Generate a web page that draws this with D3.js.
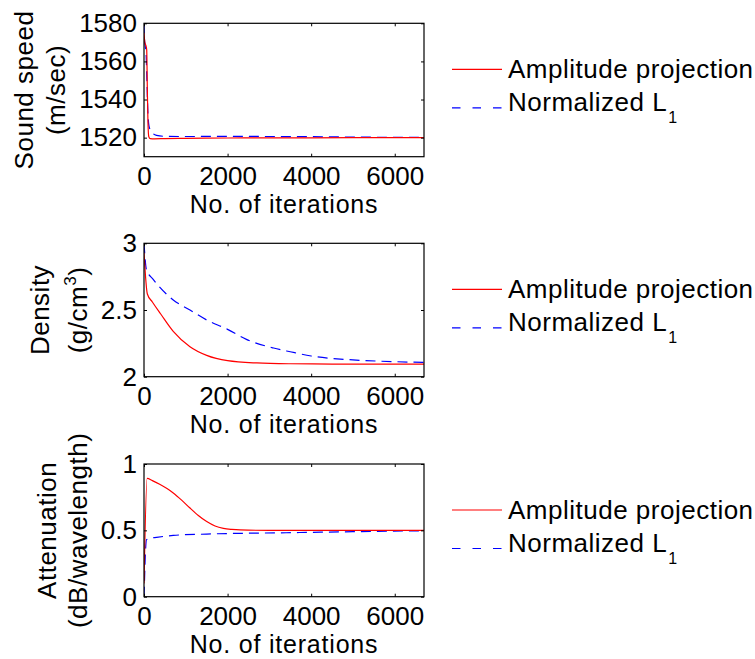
<!DOCTYPE html>
<html>
<head>
<meta charset="utf-8">
<script src="https://cdn.jsdelivr.net/npm/d3@7"></script>
<style>
  html, body { margin: 0; padding: 0; background: #fff; }
  svg { display: block; }
  text { font-family: "Liberation Sans", Arial, Helvetica, sans-serif; fill: #000; }
</style>
</head>
<body>
<svg id="chart" width="755" height="659"></svg>
<script>
// ---------------- data ----------------
const xTicks = [0, 2000, 4000, 6000];
const xDomain = [0, 6700];

// Panel 1: sound speed (m/sec)
const ssTicks = [1520, 1540, 1560, 1580];
const ssDomain = [1510, 1580];
const ssIterRed = [0, 20, 50, 65, 80, 95, 115, 150, 250, 500, 1000, 2000, 3000, 4000, 5000, 6700];
const ssRed     = [1575, 1570, 1568, 1566, 1545, 1528, 1520.5, 1519.5, 1519.4, 1519.5, 1519.6, 1519.8, 1519.9, 1519.9, 1520, 1520];
const ssIterBlue = [0, 10, 30, 50, 70, 90, 120, 180, 300, 500, 1000, 2000, 3000, 4000, 5000, 6700];
const ssBlue     = [1580, 1572, 1568, 1564, 1550, 1535, 1526, 1523, 1521.2, 1520.7, 1520.6, 1520.7, 1520.6, 1520.5, 1520.3, 1520.1];

// Panel 2: density (g/cm^3)
const dTicks = [2, 2.5, 3];
const dDomain = [2, 3];
const dIterRed = [0, 80, 200, 400, 700, 1100, 1500, 2000, 2700, 3500, 4500, 5500, 6700];
const dRed     = [2.93, 2.62, 2.56, 2.47, 2.34, 2.225, 2.16, 2.12, 2.103, 2.097, 2.095, 2.095, 2.095];
const dIterBlue = [0, 60, 220, 700, 1100, 1500, 2000, 2450, 3100, 3500, 4000, 4800, 5600, 6700];
const dBlue     = [3.0, 2.8, 2.73, 2.575, 2.5, 2.425, 2.355, 2.28, 2.215, 2.187, 2.155, 2.13, 2.117, 2.107];

// Panel 3: attenuation (dB/wavelength)
const aTicks = [0, 0.5, 1];
const aDomain = [0, 1];
const aIterRed = [0, 75, 200, 375, 550, 700, 900, 1100, 1300, 1500, 1700, 1900, 2100, 2300, 3000, 4000, 5000, 6700];
const aRed     = [0.1, 0.892, 0.875, 0.848, 0.815, 0.782, 0.728, 0.668, 0.612, 0.566, 0.533, 0.515, 0.507, 0.503, 0.5, 0.5, 0.5, 0.5];
const aIterBlue = [0, 10, 30, 60, 150, 300, 700, 1500, 3400, 5000, 6700];
const aBlue     = [0, 0.1, 0.3, 0.43, 0.44, 0.447, 0.462, 0.472, 0.482, 0.49, 0.497];

const legendLabels = ["Amplitude projection", "Normalized L", "1"];
const xLabel = "No. of iterations";

// ---------------- layout ----------------
const svg = d3.select("#chart");
const FS = 26;
const LS = "0.5px";
const left = 144, right = 424;
const panels = [
  { top: 23.3, bottom: 156.7, domain: ssDomain, ticks: ssTicks, fmt: d => String(d),
    red: [ssIterRed, ssRed], blue: [ssIterBlue, ssBlue],
    ylab: [{ t: "Sound speed", x: 33 }, { t: "(m/sec)", x: 65 }] },
  { top: 243.3, bottom: 376.7, domain: dDomain, ticks: dTicks, fmt: d => String(d),
    red: [dIterRed, dRed], blue: [dIterBlue, dBlue],
    ylab: [{ t: "Density", x: 49 }, { t: "(g/cm", sup: "3", tail: ")", x: 87 }] },
  { top: 464, bottom: 596.7, domain: aDomain, ticks: aTicks, fmt: d => String(d),
    red: [aIterRed, aRed], blue: [aIterBlue, aBlue],
    ylab: [{ t: "Attenuation", x: 56 }, { t: "(dB/wavelength)", x: 87 }] }
];

const x = d3.scaleLinear().domain(xDomain).range([left, right]);

panels.forEach((p, i) => {
  const y = d3.scaleLinear().domain(p.domain).range([p.bottom, p.top]);
  const g = svg.append("g");

  const clipId = "clip" + i;
  svg.append("defs").append("clipPath").attr("id", clipId)
    .append("rect").attr("x", left).attr("y", p.top)
    .attr("width", right - left).attr("height", p.bottom - p.top);

  // curves
  const line = d3.line().curve(d3.curveMonotoneX).x(d => x(d[0])).y(d => y(d[1]));
  const redPts = p.red[0].map((v, k) => [v, p.red[1][k]]);
  const bluePts = p.blue[0].map((v, k) => [v, p.blue[1][k]]);
  const cg = g.append("g").attr("clip-path", `url(#${clipId})`);
  cg.append("path").datum(bluePts).attr("d", line)
    .attr("fill", "none").attr("stroke", "#0000ff").attr("stroke-width", 1.2)
    .attr("stroke-dasharray", "10,6");
  cg.append("path").datum(redPts).attr("d", line)
    .attr("fill", "none").attr("stroke", "#ff0000").attr("stroke-width", 1.2);

  // axes (inward ticks)
  const ax = g.append("g").attr("transform", `translate(0,${p.bottom})`)
    .call(d3.axisBottom(x).tickValues(xTicks).tickFormat(d3.format("d"))
      .tickSizeInner(-3).tickSizeOuter(0).tickPadding(9.8));
  const axT = g.append("g").attr("transform", `translate(0,${p.top})`)
    .call(d3.axisTop(x).tickValues(xTicks).tickFormat("").tickSizeInner(-3).tickSizeOuter(0));
  const ay = g.append("g").attr("transform", `translate(${left},0)`)
    .call(d3.axisLeft(y).tickValues(p.ticks).tickFormat(p.fmt)
      .tickSizeInner(-3).tickSizeOuter(0).tickPadding(7));
  const ayR = g.append("g").attr("transform", `translate(${right},0)`)
    .call(d3.axisRight(y).tickValues(p.ticks).tickFormat("").tickSizeInner(-3).tickSizeOuter(0));
  [ax, axT, ay, ayR].forEach(a => {
    a.select(".domain").remove();
    a.selectAll(".tick line").attr("stroke", "#000").attr("stroke-width", 1);
    a.selectAll("text").attr("font-size", FS).attr("font-family", "Liberation Sans, Arial, sans-serif").attr("fill", "#000");
  });

  // box
  g.append("rect").attr("x", left).attr("y", p.top)
    .attr("width", right - left).attr("height", p.bottom - p.top)
    .attr("fill", "none").attr("stroke", "#000").attr("stroke-width", 1.2);

  // x label
  g.append("text").attr("x", (left + right) / 2).attr("y", p.bottom + 56.5)
    .attr("text-anchor", "middle").attr("font-size", 25).attr("letter-spacing", "0.8px").text(xLabel);

  // y labels
  const cy = (p.top + p.bottom) / 2;
  p.ylab.forEach(l => {
    const t = g.append("text").attr("text-anchor", "middle").attr("font-size", FS)
      .attr("letter-spacing", LS)
      .attr("transform", `translate(${l.x},${cy}) rotate(-90)`);
    t.append("tspan").text(l.t);
    if (l.sup) {
      t.append("tspan").attr("font-size", 17).attr("dy", -11).text(l.sup);
      t.append("tspan").attr("dy", 11).text(l.tail);
    }
  });

  // legend
  const l1 = p.top + 46, l2 = p.top + 84.5;
  g.append("line").attr("x1", 452).attr("x2", 502).attr("y1", l1).attr("y2", l1)
    .attr("stroke", "#ff0000").attr("stroke-width", 1.2);
  g.append("line").attr("x1", 452).attr("x2", 502).attr("y1", l2).attr("y2", l2)
    .attr("stroke", "#0000ff").attr("stroke-width", 1.2).attr("stroke-dasharray", "8.5,12");
  g.append("text").attr("x", 508).attr("y", l1 + 8.5).attr("font-size", FS)
    .attr("letter-spacing", LS).text(legendLabels[0]);
  const t2 = g.append("text").attr("x", 508).attr("y", l2 + 3.3).attr("font-size", FS)
    .attr("letter-spacing", LS);
  t2.append("tspan").text(legendLabels[1]);
  t2.append("tspan").attr("font-size", 16).attr("dy", 12).attr("dx", 1).text(legendLabels[2]);
});
</script>
</body>
</html>
